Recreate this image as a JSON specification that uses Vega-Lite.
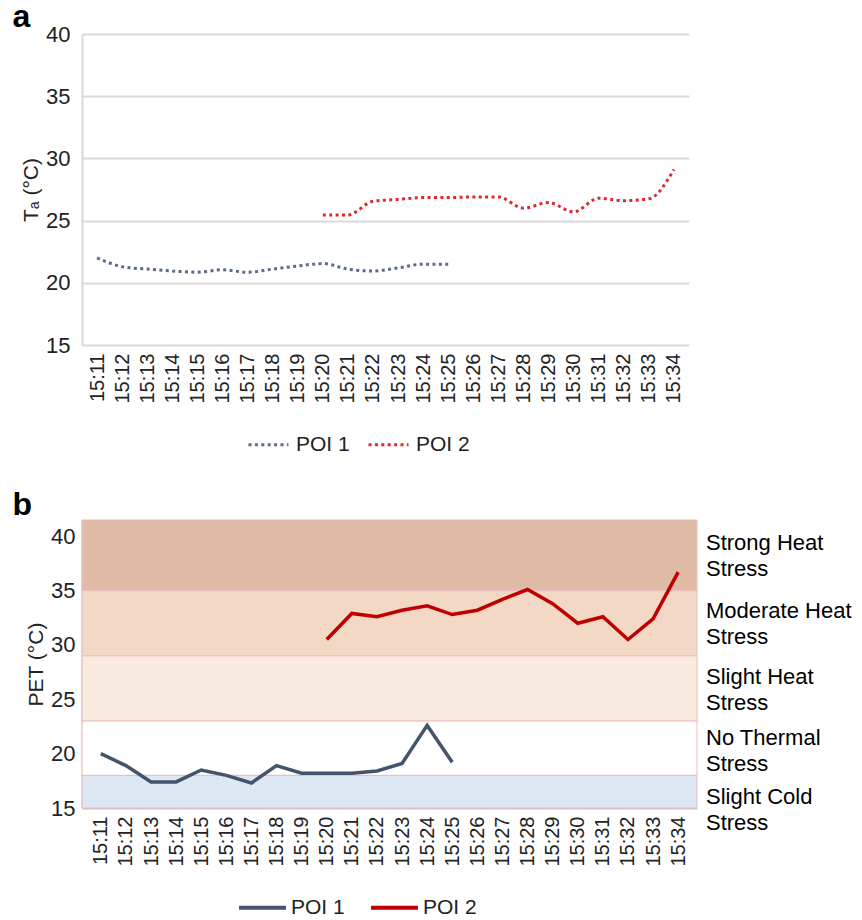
{
  "$schema": "https://vega.github.io/schema/vega-lite/v6.json",
  "padding": {"left": 12, "top": 1, "right": 0, "bottom": 0},
  "background": "white",
  "config": {
    "font": "Liberation Sans",
    "view": {"stroke": null},
    "axis": {"labelFont": "Liberation Sans", "titleFont": "Liberation Sans", "labelColor": "#222222", "titleColor": "#222222", "titleFontWeight": "normal"},
    "legend": {"labelFont": "Liberation Sans", "labelColor": "#222222"},
    "title": {"font": "Liberation Sans"}
  },
  "datasets": {
    "ta": [
      {"time": "15:11", "poi": "POI 1", "value": 22.0},
      {"time": "15:12", "poi": "POI 1", "value": 21.3},
      {"time": "15:13", "poi": "POI 1", "value": 21.1},
      {"time": "15:14", "poi": "POI 1", "value": 20.95},
      {"time": "15:15", "poi": "POI 1", "value": 20.85},
      {"time": "15:16", "poi": "POI 1", "value": 21.05},
      {"time": "15:17", "poi": "POI 1", "value": 20.85},
      {"time": "15:18", "poi": "POI 1", "value": 21.1},
      {"time": "15:19", "poi": "POI 1", "value": 21.35},
      {"time": "15:20", "poi": "POI 1", "value": 21.55},
      {"time": "15:21", "poi": "POI 1", "value": 21.1},
      {"time": "15:22", "poi": "POI 1", "value": 20.95},
      {"time": "15:23", "poi": "POI 1", "value": 21.2},
      {"time": "15:24", "poi": "POI 1", "value": 21.5},
      {"time": "15:25", "poi": "POI 1", "value": 21.5},
      {"time": "15:20", "poi": "POI 2", "value": 25.45},
      {"time": "15:21", "poi": "POI 2", "value": 25.45},
      {"time": "15:22", "poi": "POI 2", "value": 26.55},
      {"time": "15:23", "poi": "POI 2", "value": 26.7},
      {"time": "15:24", "poi": "POI 2", "value": 26.85},
      {"time": "15:25", "poi": "POI 2", "value": 26.85},
      {"time": "15:26", "poi": "POI 2", "value": 26.9},
      {"time": "15:27", "poi": "POI 2", "value": 26.9},
      {"time": "15:28", "poi": "POI 2", "value": 26.0},
      {"time": "15:29", "poi": "POI 2", "value": 26.45},
      {"time": "15:30", "poi": "POI 2", "value": 25.7},
      {"time": "15:31", "poi": "POI 2", "value": 26.8},
      {"time": "15:32", "poi": "POI 2", "value": 26.6},
      {"time": "15:33", "poi": "POI 2", "value": 26.75},
      {"time": "15:34", "poi": "POI 2", "value": 29.1}
    ],
    "pet": [
      {"time": "15:11", "poi": "POI 1", "value": 20.0},
      {"time": "15:12", "poi": "POI 1", "value": 18.9},
      {"time": "15:13", "poi": "POI 1", "value": 17.4},
      {"time": "15:14", "poi": "POI 1", "value": 17.4},
      {"time": "15:15", "poi": "POI 1", "value": 18.5},
      {"time": "15:16", "poi": "POI 1", "value": 18.0},
      {"time": "15:17", "poi": "POI 1", "value": 17.3},
      {"time": "15:18", "poi": "POI 1", "value": 18.9},
      {"time": "15:19", "poi": "POI 1", "value": 18.2},
      {"time": "15:20", "poi": "POI 1", "value": 18.2},
      {"time": "15:21", "poi": "POI 1", "value": 18.2},
      {"time": "15:22", "poi": "POI 1", "value": 18.4},
      {"time": "15:23", "poi": "POI 1", "value": 19.1},
      {"time": "15:24", "poi": "POI 1", "value": 22.6},
      {"time": "15:25", "poi": "POI 1", "value": 19.2},
      {"time": "15:20", "poi": "POI 2", "value": 30.5},
      {"time": "15:21", "poi": "POI 2", "value": 32.9},
      {"time": "15:22", "poi": "POI 2", "value": 32.6},
      {"time": "15:23", "poi": "POI 2", "value": 33.2},
      {"time": "15:24", "poi": "POI 2", "value": 33.6},
      {"time": "15:25", "poi": "POI 2", "value": 32.8},
      {"time": "15:26", "poi": "POI 2", "value": 33.2},
      {"time": "15:27", "poi": "POI 2", "value": 34.2},
      {"time": "15:28", "poi": "POI 2", "value": 35.1},
      {"time": "15:29", "poi": "POI 2", "value": 33.8},
      {"time": "15:30", "poi": "POI 2", "value": 32.0},
      {"time": "15:31", "poi": "POI 2", "value": 32.6},
      {"time": "15:32", "poi": "POI 2", "value": 30.5},
      {"time": "15:33", "poi": "POI 2", "value": 32.4},
      {"time": "15:34", "poi": "POI 2", "value": 36.7}
    ],
    "bands": [
      {"zone": "Strong Heat Stress", "lo": 35, "hi": 41.5, "label": "Strong Heat\nStress", "labelAt": 39.4},
      {"zone": "Moderate Heat Stress", "lo": 29, "hi": 35, "label": "Moderate Heat\nStress", "labelAt": 33.1},
      {"zone": "Slight Heat Stress", "lo": 23, "hi": 29, "label": "Slight Heat\nStress", "labelAt": 27.05},
      {"zone": "No Thermal Stress", "lo": 18, "hi": 23, "label": "No Thermal\nStress", "labelAt": 21.45},
      {"zone": "Slight Cold Stress", "lo": 15, "hi": 18, "label": "Slight Cold\nStress", "labelAt": 16.0}
    ]
  },
  "vconcat": [
    {
      "width": 607,
      "height": 311,
      "title": {"text": "a", "fontSize": 32, "fontWeight": "bold", "anchor": "start", "offset": -11, "dx": -8, "color": "#000000"},
      "data": {"name": "ta"},
      "mark": {"type": "line", "interpolate": "monotone", "strokeWidth": 3, "strokeDash": [3, 3.4]},
      "encoding": {
        "x": {
          "field": "time", "type": "ordinal", "sort": "ascending",
          "scale": {"type": "point", "padding": 0.6},
          "axis": {"title": null, "labelAngle": -90, "labelFontSize": 20, "ticks": false, "domain": false, "labelPadding": 8}
        },
        "y": {
          "field": "value", "type": "quantitative",
          "scale": {"domain": [15, 40], "nice": false, "zero": false},
          "axis": {"title": "Tₐ (°C)", "titleFontSize": 21, "titlePadding": 4, "values": [15, 20, 25, 30, 35, 40], "labelFontSize": 22, "ticks": false, "labelPadding": 12, "grid": true, "gridColor": "#d9d9d9", "gridWidth": 2, "domain": true, "domainColor": "#d9d9d9", "domainWidth": 2}
        },
        "color": {
          "field": "poi", "type": "nominal",
          "scale": {"domain": ["POI 1", "POI 2"], "range": ["#5b6b8c", "#e0282e"]},
          "legend": {"title": null, "orient": "none", "legendX": 165, "legendY": 389, "direction": "horizontal", "labelFontSize": 21, "symbolType": "stroke", "symbolSize": 1600, "symbolStrokeWidth": 3, "symbolDash": [3, 3.4], "labelOffset": 6, "columnPadding": 12}
        }
      }
    },
    {
      "width": 615,
      "height": 288,
      "title": {"text": "b", "fontSize": 32, "fontWeight": "bold", "anchor": "start", "offset": -2, "dx": -13, "color": "#000000"},
      "layer": [
        {
          "data": {"name": "bands"},
          "mark": {"type": "rect", "stroke": "#ecbcbc", "strokeWidth": 1},
          "encoding": {
            "y": {
              "field": "lo", "type": "quantitative",
              "scale": {"domain": [15, 41.5], "nice": false, "zero": false},
              "axis": {"title": "PET (°C)", "titleFontSize": 21, "titlePadding": 4, "values": [15, 20, 25, 30, 35, 40], "labelFontSize": 22, "ticks": false, "labelPadding": 7, "grid": false, "domainColor": "#c4c4c4", "domainWidth": 2}
            },
            "y2": {"field": "hi"},
            "fill": {
              "field": "zone", "type": "nominal",
              "scale": {"domain": ["Strong Heat Stress", "Moderate Heat Stress", "Slight Heat Stress", "No Thermal Stress", "Slight Cold Stress"], "range": ["#e0bca6", "#f4d8c6", "#f9eadf", "#ffffff", "#dde8f4"]},
              "legend": null
            }
          }
        },
        {
          "data": {"name": "pet"},
          "mark": {"type": "line", "strokeWidth": 3.5},
          "encoding": {
            "x": {
              "field": "time", "type": "ordinal", "sort": "ascending",
              "scale": {"type": "point", "padding": 0.75},
              "axis": {"title": null, "labelAngle": -90, "labelFontSize": 20, "ticks": false, "domain": true, "domainColor": "#c4c4c4", "domainWidth": 2, "labelPadding": 8}
            },
            "y": {"field": "value", "type": "quantitative"},
            "color": {
              "field": "poi", "type": "nominal",
              "scale": {"domain": ["POI 1", "POI 2"], "range": ["#44546a", "#c00000"]},
              "legend": {"title": null, "orient": "none", "legendX": 155, "legendY": 362, "direction": "horizontal", "labelFontSize": 21, "symbolType": "stroke", "symbolSize": 2200, "symbolStrokeWidth": 4, "labelOffset": 3, "columnPadding": 18}
            }
          }
        },
        {
          "data": {"name": "bands"},
          "mark": {"type": "text", "align": "left", "baseline": "middle", "dx": 9, "fontSize": 22, "lineHeight": 26, "lineBreak": "\n", "color": "#000000"},
          "encoding": {
            "x": {"value": "width"},
            "y": {"field": "labelAt", "type": "quantitative"},
            "text": {"field": "label"}
          }
        }
      ]
    }
  ],
  "spacing": 33,
  "resolve": {"scale": {"color": "independent"}, "legend": {"color": "independent"}}
}
